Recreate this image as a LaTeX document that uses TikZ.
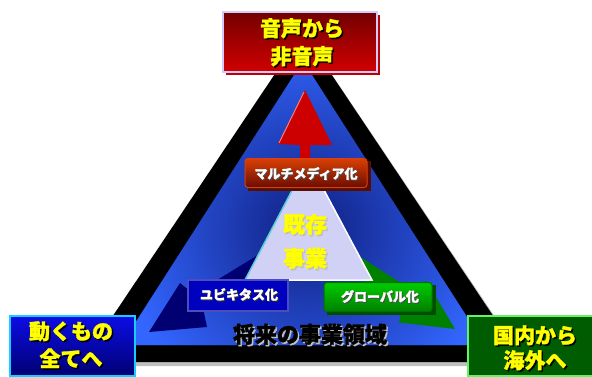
\documentclass[tikz,border=0pt]{standalone}
\usepackage{fontspec}
\newfontfamily\cjk{Noto Sans CJK JP}[BoldFeatures={FakeBold=1.5}]
\usetikzlibrary{shapes.misc}
\definecolor{triblue}{rgb}{0.2,0.4,1}
\definecolor{darkblueshade}{rgb}{0.06,0.12,0.5}
\definecolor{innertri}{rgb}{0.82,0.82,0.96}
\definecolor{innercyan}{rgb}{0.35,0.8,0.85}
\definecolor{arrred}{rgb}{0.8,0,0}
\definecolor{arrpink}{rgb}{0.95,0.5,0.5}
\definecolor{arrnavy}{rgb}{0,0,0.45}
\definecolor{arrgreen}{rgb}{0,0.5,0}
\definecolor{txtyellow}{rgb}{1,1,0}
\definecolor{multishadow}{rgb}{0.35,0.05,0}
\definecolor{multiborder}{rgb}{0.85,0.25,0.05}
\definecolor{multitop}{rgb}{0.85,0.25,0.02}
\definecolor{multibot}{rgb}{0.42,0.05,0}
\definecolor{ubiborder}{rgb}{0.3,0.3,0.75}
\definecolor{ubifill}{rgb}{0,0,0.75}
\definecolor{globshadow}{rgb}{0,0.3,0}
\definecolor{globborder}{rgb}{0,0.45,0}
\definecolor{globtop}{rgb}{0,0.8,0}
\definecolor{globbot}{rgb}{0,0.5,0}
\definecolor{topshadow}{rgb}{0.75,0,0}
\definecolor{topborder}{rgb}{0.82,0.8,1}
\definecolor{toptop}{rgb}{0.45,0,0}
\definecolor{topbot}{rgb}{0.82,0,0}
\definecolor{leftborder}{rgb}{0.1,0.8,1}
\definecolor{lefttop}{rgb}{0.05,0.05,0.9}
\definecolor{leftbot}{rgb}{0,0,0.45}
\definecolor{rightborder}{rgb}{0.4,0.95,0.4}
\definecolor{rightfill}{rgb}{0,0.36,0}
\newcommand{\shtxt}[4][1.5pt]{\makebox[0pt][l]{\hspace{#1}\raisebox{-#1}{\color{#3}#4}}{\color{#2}#4}}
\begin{document}
\begin{tikzpicture}[x=1pt,y=-1pt,
  bigtxt/.style={font=\cjk\bfseries\fontsize{21}{21}\selectfont, inner sep=0pt},
  midtxt/.style={font=\cjk\bfseries\fontsize{22}{22}\selectfont, inner sep=0pt},
  lbltxt/.style={font=\cjk\bfseries\fontsize{13}{13}\selectfont, inner sep=0pt},
  corner/.style={minimum width=#1, minimum height=60pt, inner sep=0pt, line width=2pt},
]
\useasboundingbox (0,0) rectangle (592,376);
% outer black triangle with gray shadow
\fill[black!25] (306,36) -- (528,366) -- (86,366) -- cycle;
\fill[black] (303,32) -- (524,362) -- (82,362) -- cycle;
% blue triangle
\fill[triblue] (303,61) -- (485,345) -- (121,345) -- cycle;
\begin{scope}
  \clip (303,61) -- (485,345) -- (121,345) -- cycle;
  \fill[inner color=darkblueshade, outer color=triblue] (118,38) rectangle (498,418);
\end{scope}
% red arrow
\fill[arrred] (300,195) -- (300,145) -- (278,144) -- (305,90) -- (332,145) -- (310,145) -- (310,195) -- cycle;
\draw[line width=1pt, arrpink] (279,143) -- (304,92);
% navy arrow to the lower left
\fill[arrnavy] (149,332) -- (180,283) -- (193.9,294.2) -- (258,255) -- (267,270) -- (203.3,309.6) -- (207,327) -- cycle;
% green arrow to the lower right
\fill[arrgreen] (455,329) -- (426,280.5) -- (412.4,290.6) -- (349.4,249.9) -- (339.6,265.1) -- (402.6,305.8) -- (399,322.5) -- cycle;
% inner triangle
\fill[innertri] (308,160) -- (372,280) -- (245,280) -- cycle;
\draw[line width=1.5pt, innercyan] (245,280) -- (308,160);
\draw[line width=1.5pt, white] (245,280) -- (372,280) -- (308,160);
% center text
\node[midtxt] (kison) at (305,225) {\shtxt{txtyellow}{black!25}{既存}};
\node[midtxt] (jigyo) at (305,259) {\shtxt{txtyellow}{black!25}{事業}};
% bottom text
\node[midtxt] (shorai) at (310,335) {\shtxt{black}{black!25}{将来の事業領域}};
% label boxes
\fill[multishadow] (248,161) rectangle (371,191);
\node[rounded corners=3pt, draw=multiborder, line width=1pt,
  top color=multitop, bottom color=multibot,
  minimum width=122pt, minimum height=29pt, inner sep=0pt] (multi) at (306,173) {};
\node[lbltxt] (multit) at (306,174) {\shtxt[1pt]{white}{black!70}{マルチメディア化}};
\node[chamfered rectangle, chamfered rectangle xsep=4pt, chamfered rectangle sep=5pt,
  draw=ubiborder, line width=2pt, fill=ubifill,
  minimum width=100pt, minimum height=31pt, inner sep=0pt] (ubi) at (238,295) {};
\node[lbltxt] (ubit) at (239,295) {\shtxt[1pt]{white}{black!80}{ユビキタス化}};
\fill[globshadow] (327,285) rectangle (436,315);
\node[rounded corners=3pt, draw=globborder, line width=1pt,
  top color=globtop, bottom color=globbot,
  minimum width=108pt, minimum height=29pt, inner sep=0pt] (glob) at (378,297) {};
\node[lbltxt] (globt) at (380,297) {\shtxt[1pt]{white}{black!70}{グローバル化}};
% top red box
\fill[topshadow] (226,15) rectangle (380,75);
\node[corner=154pt, draw=topborder, top color=toptop, bottom color=topbot] (topbox) at (300,42) {};
\node[bigtxt] (top1) at (302,29) {\shtxt{txtyellow}{black}{音声から}};
\node[bigtxt] (top2) at (302,57) {\shtxt{txtyellow}{black}{非音声}};
% left blue box
\node[corner=125pt, draw=leftborder, top color=lefttop, bottom color=leftbot] (leftbox) at (72,346) {};
\node[bigtxt] (left1) at (71,332) {\shtxt{txtyellow}{black}{動くもの}};
\node[bigtxt] (left2) at (71,359) {\shtxt{txtyellow}{black}{全てへ}};
% right green box
\node[corner=130pt, draw=rightborder, fill=rightfill] (rightbox) at (533,346) {};
\node[bigtxt] (right1) at (535,336) {\shtxt{txtyellow}{black}{国内から}};
\node[bigtxt] (right2) at (535,361) {\shtxt{txtyellow}{black}{海外へ}};
\end{tikzpicture}
\end{document}
